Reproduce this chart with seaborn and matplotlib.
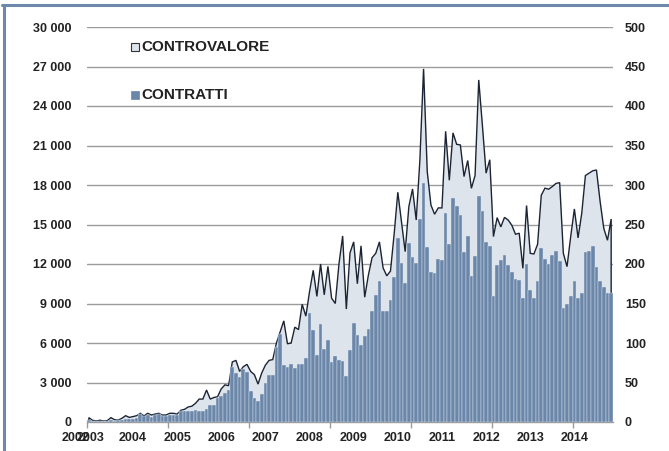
import numpy as np
import pandas as pd
import matplotlib
matplotlib.use("Agg")
import matplotlib.pyplot as plt
from matplotlib.lines import Line2D
import seaborn as sns

# ---- data (monthly, Jan 2003 -> Nov 2014) ----
controvalore = [
    330, 130, 80, 130, 80, 100, 330, 170, 150, 280, 480, 350,
    410, 480, 660, 460, 660, 530, 600, 660, 530, 530, 660, 660,
    600, 890, 960, 1140, 1200, 1420, 1740, 1740, 2430, 1740, 1860, 1920,
    2520, 2820, 2760, 4560, 4680, 3840, 4200, 4380, 3840, 3600, 2880, 3720,
    4320, 4680, 4740, 6000, 6840, 7680, 5940, 6000, 7200, 7020, 8940, 8040,
    9900, 11520, 9540, 12000, 9660, 11820, 9400, 9000, 12000, 14130, 8580, 12840,
    13680, 10500, 13380, 9480, 11160, 12480, 12810, 13680, 11700, 11100, 11460, 14260,
    17450, 15220, 12940, 16360, 17700, 15340, 19900, 26820, 19020, 16480, 15780, 16260,
    16260, 22080, 18360, 21960, 21090, 21040, 18640, 19860, 17750, 18720, 25980, 22500,
    18900, 19920, 14080, 15520, 14820, 15540, 15340, 14940, 14260, 14340, 11670, 16440,
    12810, 12760, 13500, 17220, 17760, 17680, 17880, 18120, 18180, 12810, 11800, 14080,
    16180, 13980, 15840, 18720, 18900, 19080, 19140, 16740, 14700, 13800, 15420,
]
contratti = [
    2, 1, 1, 1.5, 1, 1, 2, 1.5, 2, 3, 4, 3.5,
    3.8, 4.6, 10, 7.6, 8.9, 6.3, 8.9, 10.5, 8, 7.6, 8.9, 8.4,
    8.4, 13.5, 13.5, 14, 13.5, 15, 14.5, 14, 16, 22, 21.5, 30,
    33, 37, 40, 70, 62, 56.5, 67, 63.5, 39, 30, 26.5, 36,
    49, 59, 59, 94.5, 111, 72, 70, 74, 68, 73, 73, 81.4,
    137.5, 116.5, 84.8, 124, 92.4, 104, 75.5, 83.6, 79, 77.6, 58, 91,
    125, 110, 97.5, 109, 118, 140.5, 161, 178, 140, 141, 155, 184,
    233, 201, 176, 226, 209, 201, 257, 302, 221, 190, 189, 206,
    205.5, 264, 225, 284, 273, 262, 215, 235.5, 185, 210.6, 286.5, 267.5,
    228, 222.8, 159.5, 198.8, 204.7, 212, 198.8, 189.5, 181, 179.8, 156.6, 200,
    167.5, 157, 178.5, 220.7, 206, 199.6, 211.4, 217, 203.8, 144, 150, 159,
    178.5, 156.6, 163.7, 215, 216.5, 222.8, 196, 179, 170.5, 163, 163,
]
year_labels = ["2003", "2004", "2005", "2006", "2007", "2008",
               "2009", "2010", "2011", "2012", "2013", "2014"]
ghost_label = "2002"
left_ticks = list(range(0, 30001, 3000))
right_ticks = list(range(0, 501, 50))
legend_labels = ["CONTROVALORE", "CONTRATTI"]

n = len(contratti)
months = list(range(n))
df = pd.DataFrame({"mese": months, "contratti": contratti, "controvalore": controvalore})

# ---- style ----
sns.set_theme(style="white")
plt.rcParams["font.family"] = ["Liberation Sans", "DejaVu Sans"]
plt.rcParams["font.weight"] = "bold"

AREA = "#dde4eb"
LINE = "#1c2434"
BAR = "#6a87aa"
GRID = "#9c9c9c"
TXT = "#222222"

fig = plt.figure(figsize=(6.69, 4.51), dpi=100)
ax = fig.add_axes([87 / 669, 1 - 422 / 451, 526 / 669, 395 / 451])
ax2 = ax.twinx()

# area (controvalore) on left axis
x = np.array(months, dtype=float)
cv = np.array(controvalore, dtype=float)
ax.fill_between(x, 0, cv, color=AREA, zorder=1, linewidth=0)
ax.plot(np.concatenate([[x[0]], x, [x[-1]]]), np.concatenate([[0], cv, [0]]),
        color=LINE, lw=1.0, zorder=2, solid_joinstyle="miter")

# bars (contratti) on right axis
sns.barplot(data=df, x="mese", y="contratti", ax=ax2, color=BAR, saturation=1,
            width=1.0, edgecolor="#dfe6ee", linewidth=0.3, errorbar=None)

# grid
ax.set_axisbelow(True)
ax.yaxis.grid(True, color=GRID, lw=1.0)
ax.xaxis.grid(False)
ax2.grid(False)

# spines
for s in ["left", "right", "top"]:
    ax.spines[s].set_visible(False)
for s in ["left", "right", "top", "bottom"]:
    ax2.spines[s].set_visible(False)
ax.spines["bottom"].set_color(GRID)
ax.spines["bottom"].set_linewidth(1.0)
ax.spines["bottom"].set_zorder(5)

# y ticks
ax.set_yticks(left_ticks)
ax.set_yticklabels([f"{v:,}".replace(",", " ") for v in left_ticks])
ax2.set_yticks(right_ticks)
ax2.set_yticklabels([str(v) for v in right_ticks])
ax.tick_params(axis="y", length=0, pad=11.5, labelsize=9, labelcolor=TXT)
ax2.tick_params(axis="y", length=0, pad=8.5, labelsize=9, labelcolor=TXT)
for lab in ax.get_yticklabels() + ax2.get_yticklabels():
    lab.set_fontweight("bold")

# x ticks: labels at January of each year, tick marks every 22 months
pos = [0.5] + [12 * i for i in range(1, 12)]
ax.set_xticks(pos)
ax.set_xticklabels(year_labels)
ax.set_xticks([-0.5 + 22 * j for j in range(7)], minor=True)
ax.tick_params(axis="x", which="major", length=0, pad=7, labelsize=9, labelcolor=TXT)
ax.tick_params(axis="x", which="minor", length=4, width=1, color=GRID, direction="out", bottom=True)
for lab in ax.get_xticklabels():
    lab.set_fontweight("bold")
ax.set_xlabel("")
ax.set_ylabel("")
ax2.set_xlabel("")
ax2.set_ylabel("")

# limits last (set_ticks may expand them)
ax.set_xlim(-0.5, n - 0.5)
ax.set_ylim(0, 30000)
ax2.set_ylim(0, 500)

# overlapping ghost label at the left end, as in the original
ax.annotate(ghost_label, xy=(-3.6, 0), xycoords=("data", "axes fraction"),
            xytext=(0, -7), textcoords="offset points", ha="center", va="top",
            fontsize=9, fontweight="bold", color=TXT, annotation_clip=False)

# legend as text + square markers
ax2.plot([0.0913], [0.949], marker="s", markersize=6, markerfacecolor=AREA,
         markeredgecolor="#333333", markeredgewidth=0.8, transform=ax2.transAxes,
         clip_on=False, linestyle="none", zorder=10)
ax2.text(0.1027, 0.949, legend_labels[0], transform=ax2.transAxes, fontsize=11,
         fontweight="bold", color=TXT, va="center", ha="left", zorder=10)
ax2.plot([0.0913], [0.828], marker="s", markersize=6, markerfacecolor=BAR,
         markeredgecolor=BAR, markeredgewidth=0.5, transform=ax2.transAxes,
         clip_on=False, linestyle="none", zorder=10)
ax2.text(0.1027, 0.828, legend_labels[1], transform=ax2.transAxes, fontsize=11,
         fontweight="bold", color=TXT, va="center", ha="left", zorder=10)

# frame of the picture (left and top edges)
FRAME = "#6d88ab"
fig.add_artist(Line2D([3.5 / 669, 3.5 / 669], [0, 1 - 4.5 / 451], color=FRAME, lw=2.2,
                      transform=fig.transFigure))
fig.add_artist(Line2D([2.4 / 669, 1], [1 - 4.5 / 451, 1 - 4.5 / 451], color=FRAME, lw=2.2,
                      transform=fig.transFigure))

fig.savefig("out.png", dpi=100)
